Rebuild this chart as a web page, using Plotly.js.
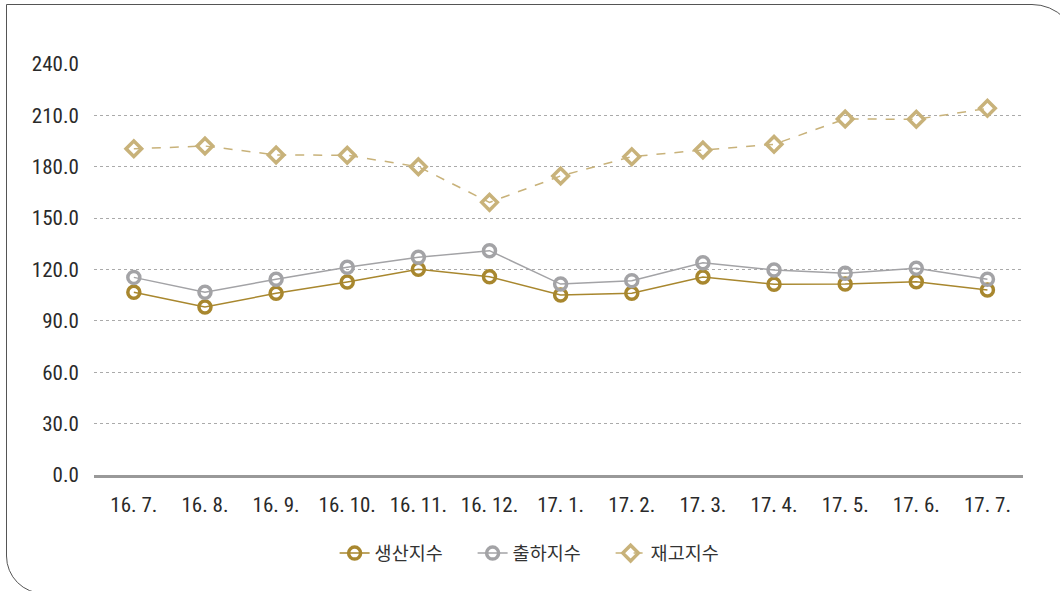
<!DOCTYPE html>
<html>
<head>
<meta charset="utf-8">
<script src="https://cdn.plot.ly/plotly-3.0.1.min.js"></script>
<style>
html,body{margin:0;padding:0;background:#fff;overflow:hidden;}
#wrap{position:relative;width:1060px;height:591px;overflow:hidden;}
#frame{position:absolute;left:6px;top:4px;width:1072px;height:590px;border:1.5px solid #555;border-radius:0 46px 0 38px;box-sizing:border-box;pointer-events:none;}
#chart{position:absolute;left:0;top:0;width:1060px;height:591px;}
</style>
</head>
<body>
<div id="wrap">
<div id="frame"></div>
<div id="chart"></div>
</div>
<script>
const categories = ["16. 7.","16. 8.","16. 9.","16. 10.","16. 11.","16. 12.","17. 1.","17. 2.","17. 3.","17. 4.","17. 5.","17. 6.","17. 7."];
const production = [106.7, 98.1, 106.1, 112.7, 120.1, 115.8, 105.1, 106.1, 115.6, 111.4, 111.5, 112.9, 108.0];
const shipment = [115.4, 106.7, 114.3, 121.3, 127.1, 131.0, 111.5, 113.5, 124.0, 119.7, 117.8, 120.7, 114.3];
const inventory = [190.5, 192.1, 186.9, 186.7, 180.0, 159.2, 174.6, 185.9, 189.8, 193.1, 207.9, 207.7, 214.1];
const seriesNames = ["생산지수","출하지수","재고지수"];
const yTicks = [0, 30, 60, 90, 120, 150, 180, 210, 240];

const gold = "#A8872E", gray = "#A3A3A6", tan = "#C8B27A";

const traces = [
  {x: categories, y: production, name: seriesNames[0], type: "scatter", mode: "lines+markers",
   line: {color: gold, width: 1.5},
   marker: {symbol: "circle-open", size: 12, color: gold, line: {width: 3.5, color: gold}}},
  {x: categories, y: shipment, name: seriesNames[1], type: "scatter", mode: "lines+markers",
   line: {color: gray, width: 1.5},
   marker: {symbol: "circle-open", size: 12, color: gray, line: {width: 3.5, color: gray}}},
  {x: categories, y: inventory, name: seriesNames[2], type: "scatter", mode: "lines+markers",
   line: {color: tan, width: 1.5, dash: "dash"},
   marker: {symbol: "diamond-open", size: 12, color: tan, line: {width: 3.5, color: tan}}}
];

const tickFont = {family: "'Roboto Condensed', Roboto, sans-serif", size: 21, color: "#2a2a2a", weight: 400};

const layout = {
  width: 1060, height: 591,
  margin: {l: 94, r: 37, t: 64, b: 116},
  paper_bgcolor: "rgba(0,0,0,0)", plot_bgcolor: "rgba(0,0,0,0)",
  font: tickFont,
  xaxis: {
    type: "category", range: [-0.56, 12.5], showgrid: false,
    showline: true, linecolor: "#999", linewidth: 3,
    ticks: "outside", ticklen: 9, tickcolor: "rgba(0,0,0,0)",
    tickfont: tickFont, zeroline: false
  },
  yaxis: {
    range: [0, 240], tickvals: yTicks, ticktext: yTicks.map(v => v.toFixed(1)),
    showgrid: true, gridcolor: "#aaa", griddash: "dot", gridwidth: 1,
    zeroline: false, showline: false,
    ticks: "outside", ticklen: 10, tickcolor: "rgba(0,0,0,0)",
    tickfont: tickFont
  },
  showlegend: true,
  legend: {
    orientation: "h", x: 0.259, xanchor: "left", y: -0.145, yanchor: "top",
    font: {family: "'Noto Sans CJK KR', 'Noto Sans', sans-serif", size: 18.5, color: "#333"},
    entrywidth: 93, entrywidthmode: "pixels", tracegroupgap: 0
  },
  hovermode: false
};

traces.forEach(t => t.cliponaxis = false);
Plotly.newPlot("chart", traces, layout, {displayModeBar: false, staticPlot: true});
</script>
</body>
</html>
